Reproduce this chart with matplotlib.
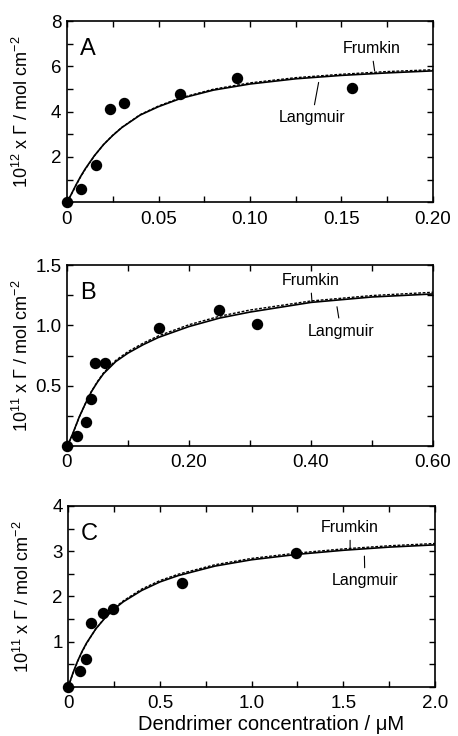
import matplotlib
matplotlib.use("Agg")
import matplotlib.pyplot as plt

plt.rcParams["font.family"] = ["Liberation Sans", "DejaVu Sans"]
plt.rcParams["mathtext.fontset"] = "custom"
plt.rcParams["mathtext.rm"] = "Liberation Sans"
plt.rcParams["mathtext.it"] = "Liberation Sans:italic"

# ---- panel A data ----
a_conc = [0, 0.0078, 0.0156, 0.0234, 0.031, 0.062, 0.093, 0.156]
a_gamma = [0, 0.58, 1.63, 4.12, 4.37, 4.77, 5.50, 5.04]
a_fit_x = [0, 0.002, 0.005, 0.0075, 0.01, 0.015, 0.02, 0.025, 0.03, 0.04,
           0.05, 0.062, 0.08, 0.1, 0.125, 0.15, 0.175, 0.2]
a_langmuir = [0, 0.30, 0.78, 1.15, 1.48, 2.06, 2.55, 2.95, 3.30, 3.85,
              4.22, 4.58, 4.95, 5.22, 5.45, 5.60, 5.71, 5.80]
a_frumkin = [0, 0.29, 0.76, 1.13, 1.46, 2.05, 2.55, 2.96, 3.31, 3.87,
             4.25, 4.61, 4.99, 5.27, 5.50, 5.65, 5.77, 5.85]

# ---- panel B data ----
b_conc = [0, 0.0164, 0.031, 0.039, 0.046, 0.063, 0.150, 0.249, 0.311]
b_gamma = [0, 0.08, 0.196, 0.39, 0.685, 0.685, 0.98, 1.13, 1.01]
b_fit_x = [0, 0.005, 0.01, 0.02, 0.03, 0.04, 0.05, 0.06, 0.08, 0.1,
           0.125, 0.15, 0.2, 0.25, 0.3, 0.4, 0.5, 0.6]
b_langmuir = [0, 0.05, 0.11, 0.24, 0.35, 0.45, 0.53, 0.60, 0.70, 0.77,
              0.84, 0.90, 0.99, 1.06, 1.11, 1.19, 1.235, 1.26]
b_frumkin = [0, 0.048, 0.108, 0.238, 0.35, 0.452, 0.535, 0.607, 0.71, 0.782,
             0.853, 0.913, 1.005, 1.075, 1.127, 1.202, 1.247, 1.274]

# ---- panel C data ----
c_conc = [0, 0.064, 0.095, 0.124, 0.187, 0.246, 0.62, 1.24]
c_gamma = [0, 0.35, 0.61, 1.40, 1.64, 1.73, 2.29, 2.95]
c_fit_x = [0, 0.025, 0.05, 0.075, 0.1, 0.15, 0.2, 0.25, 0.3, 0.4,
           0.5, 0.6, 0.8, 1.0, 1.25, 1.5, 1.75, 2.0]
c_langmuir = [0, 0.30, 0.56, 0.78, 0.97, 1.28, 1.52, 1.72, 1.88, 2.13,
              2.32, 2.46, 2.67, 2.81, 2.93, 3.02, 3.09, 3.14]
c_frumkin = [0, 0.29, 0.55, 0.77, 0.96, 1.28, 1.53, 1.74, 1.90, 2.16,
             2.35, 2.49, 2.70, 2.84, 2.96, 3.05, 3.12, 3.17]

panels = [
    dict(letter="A", conc=a_conc, gamma=a_gamma, fx=a_fit_x, lang=a_langmuir, frum=a_frumkin,
         xlim=(0, 0.2), ylim=(0, 8),
         xticks=[0, 0.05, 0.10, 0.15, 0.20], xlabels=["0", "0.05", "0.10", "0.15", "0.20"], xminor=0.025,
         yticks=[2, 4, 6, 8], ylabels=["2", "4", "6", "8"], yminor=1,
         ylabel=r"10$^{12}$ x $\Gamma$ / mol cm$^{-2}$",
         frum_txt=(0.1663, 6.80), frum_xy=(0.1681, 5.80),
         lang_txt=(0.1339, 3.73), lang_xy=(0.1375, 5.29),
         pos=[67 / 458, 1 - 202.3 / 736, 366 / 458, 181.3 / 736]),
    dict(letter="B", conc=b_conc, gamma=b_gamma, fx=b_fit_x, lang=b_langmuir, frum=b_frumkin,
         xlim=(0, 0.6), ylim=(0, 1.5),
         xticks=[0, 0.2, 0.4, 0.6], xlabels=["0", "0.20", "0.40", "0.60"], xminor=0.1,
         yticks=[0.5, 1.0, 1.5], ylabels=["0.5", "1.0", "1.5"], yminor=0.25,
         ylabel=r"10$^{11}$ x $\Gamma$ / mol cm$^{-2}$",
         frum_txt=(0.399, 1.375), frum_xy=(0.4016, 1.196),
         lang_txt=(0.449, 0.953), lang_xy=(0.4426, 1.154),
         pos=[67 / 458, 1 - 446 / 736, 366 / 458, 181 / 736]),
    dict(letter="C", conc=c_conc, gamma=c_gamma, fx=c_fit_x, lang=c_langmuir, frum=c_frumkin,
         xlim=(0, 2.0), ylim=(0, 4),
         xticks=[0, 0.5, 1.0, 1.5, 2.0], xlabels=["0", "0.5", "1.0", "1.5", "2.0"], xminor=0.25,
         yticks=[1, 2, 3, 4], ylabels=["1", "2", "3", "4"], yminor=0.5,
         ylabel=r"10$^{11}$ x $\Gamma$ / mol cm$^{-2}$",
         frum_txt=(1.537, 3.53), frum_xy=(1.537, 3.06),
         lang_txt=(1.618, 2.345), lang_xy=(1.615, 2.89),
         pos=[68.3 / 458, 1 - 686.7 / 736, 366.7 / 458, 180.7 / 736]),
]

fig = plt.figure(figsize=(4.58, 7.36), dpi=100)

for p in panels:
    ax = fig.add_axes(p["pos"])
    # fitted isotherms
    ax.plot(p["fx"], p["frum"], color="black", lw=1.0, linestyle=(0, (2, 1.2)))
    ax.plot(p["fx"], p["lang"], color="black", lw=1.2)
    # experimental points
    ax.plot(p["conc"], p["gamma"], "o", color="black", markersize=7.2, clip_on=False, zorder=5)

    ax.set_xlim(*p["xlim"])
    ax.set_ylim(*p["ylim"])
    ax.set_xticks(p["xticks"])
    ax.set_xticklabels(p["xlabels"])
    ax.set_yticks(p["yticks"])
    ax.set_yticklabels(p["ylabels"])
    ax.xaxis.set_minor_locator(matplotlib.ticker.MultipleLocator(p["xminor"]))
    ax.yaxis.set_minor_locator(matplotlib.ticker.MultipleLocator(p["yminor"]))
    ax.tick_params(which="both", direction="in", top=True, right=True, length=4.5, width=1.0)
    ax.tick_params(axis="x", which="major", labelsize=13.5, pad=6)
    ax.tick_params(axis="y", which="major", labelsize=13.5, pad=4)
    for sp in ax.spines.values():
        sp.set_linewidth(1.2)

    ax.set_ylabel(p["ylabel"], fontsize=13, va="center")
    ax.yaxis.set_label_coords(-0.123, 0.5)

    ax.text(0.058, 0.845, p["letter"], transform=ax.transAxes, fontsize=17,
            ha="center", va="center")

    ax.annotate("Frumkin", xy=p["frum_xy"], xytext=p["frum_txt"], fontsize=11.5,
                ha="center", va="center",
                arrowprops=dict(arrowstyle="-", color="black", lw=0.8, shrinkA=2, shrinkB=0))
    ax.annotate("Langmuir", xy=p["lang_xy"], xytext=p["lang_txt"], fontsize=11.5,
                ha="center", va="center",
                arrowprops=dict(arrowstyle="-", color="black", lw=0.8, shrinkA=2, shrinkB=0))

fig.text(271.5 / 458, 1 - 725 / 736, "Dendrimer concentration / μM", fontsize=14.5,
         ha="center", va="center")

fig.savefig("out.png", dpi=100)
